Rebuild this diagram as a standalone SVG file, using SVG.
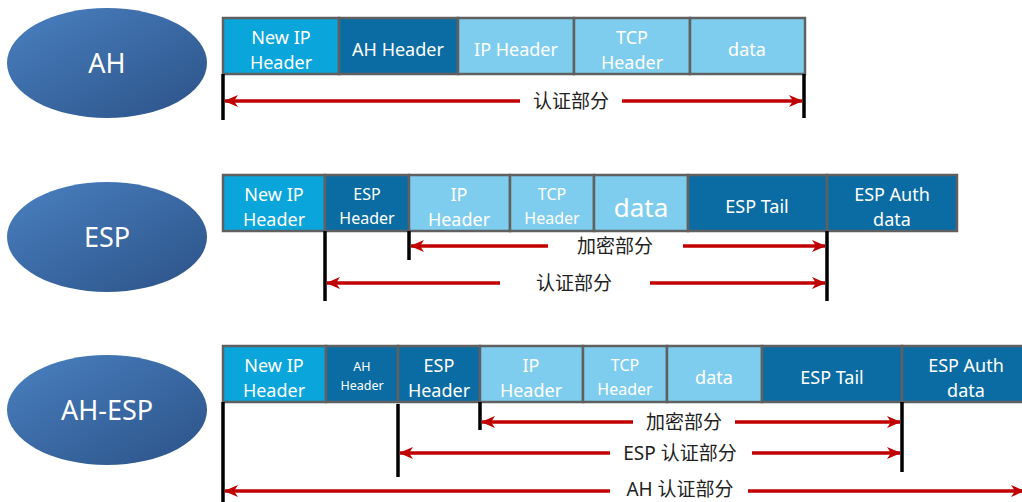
<svg xmlns="http://www.w3.org/2000/svg" width="1022" height="502" viewBox="0 0 1022 502">
<defs>
<linearGradient id="eg" x1="0" y1="0" x2="1" y2="1">
<stop offset="0" stop-color="#4a80c0"/>
<stop offset="1" stop-color="#2b5287"/>
</linearGradient>
<marker id="ah" viewBox="0 0 14 12" refX="13" refY="6" markerWidth="14" markerHeight="12" markerUnits="userSpaceOnUse" orient="auto">
<path d="M0,0 L14,6 L0,12 L4,6 Z" fill="#c00000"/>
</marker>
<style>
.el{fill:url(#eg);}
.et{font-family:"Noto Sans","Open Sans",sans-serif;font-size:27px;fill:#fff;text-anchor:middle;}
.b{stroke:#606060;stroke-width:2.5;}
.c1{fill:#0aa5db;}
.c2{fill:#0a6ca3;}
.c3{fill:#7fcdee;}
.t{font-family:"Noto Sans","Open Sans",sans-serif;font-size:18px;fill:#fff;text-anchor:middle;}
.ts{font-size:16px;}
.tx{font-size:12.5px;}
.tl{font-size:26px;}
.bar{stroke:#000;stroke-width:3.5;}
.ar{stroke:#c00000;stroke-width:3.5;fill:none;}
.lb{font-family:"Noto Sans","Noto Sans CJK SC",sans-serif;font-size:19px;fill:#222;text-anchor:middle;}
</style>
</defs>

<g id="ah-label">
<ellipse class="el" cx="107" cy="63" rx="100" ry="55"/>
<text class="et" x="107" y="73">AH</text>
</g>
<g id="esp-label">
<ellipse class="el" cx="107" cy="237" rx="100" ry="55"/>
<text class="et" x="107" y="247">ESP</text>
</g>
<g id="ahesp-label">
<ellipse class="el" cx="107" cy="410" rx="100" ry="55"/>
<text class="et" x="107" y="420">AH-ESP</text>
</g>

<!-- Row 1 -->
<g id="r1-newip"><rect class="b c1" x="223" y="18" width="116" height="56"/><text class="t" x="281" y="44">New IP</text><text class="t" x="281" y="69">Header</text></g>
<g id="r1-ah"><rect class="b c2" x="339" y="18" width="119" height="56"/><text class="t" x="398" y="56">AH Header</text></g>
<g id="r1-ip"><rect class="b c3" x="458" y="18" width="116" height="56"/><text class="t" x="516" y="56">IP Header</text></g>
<g id="r1-tcp"><rect class="b c3" x="574" y="18" width="116" height="56"/><text class="t" x="632" y="44">TCP</text><text class="t" x="632" y="69">Header</text></g>
<g id="r1-data"><rect class="b c3" x="690" y="18" width="115" height="56"/><text class="t" x="747" y="56">data</text></g>

<!-- Row 2 -->
<g id="r2-newip"><rect class="b c1" x="223" y="175" width="102" height="56"/><text class="t" x="274" y="201">New IP</text><text class="t" x="274" y="226">Header</text></g>
<g id="r2-esph"><rect class="b c2" x="325" y="175" width="84" height="56"/><text class="t ts" x="367" y="200">ESP</text><text class="t ts" x="367" y="224">Header</text></g>
<g id="r2-ip"><rect class="b c3" x="409" y="175" width="101" height="56"/><text class="t" x="459" y="201">IP</text><text class="t" x="459" y="226">Header</text></g>
<g id="r2-tcp"><rect class="b c3" x="510" y="175" width="84" height="56"/><text class="t ts" x="552" y="200">TCP</text><text class="t ts" x="552" y="224">Header</text></g>
<g id="r2-data"><rect class="b c3" x="594" y="175" width="94" height="56"/><text class="t tl" x="641" y="217">data</text></g>
<g id="r2-tail"><rect class="b c2" x="688" y="175" width="139" height="56"/><text class="t" x="757" y="213">ESP Tail</text></g>
<g id="r2-auth"><rect class="b c2" x="827" y="175" width="130" height="56"/><text class="t" x="892" y="201">ESP Auth</text><text class="t" x="892" y="226">data</text></g>

<!-- Row 3 -->
<g id="r3-newip"><rect class="b c1" x="223" y="346" width="103" height="56"/><text class="t" x="274" y="372">New IP</text><text class="t" x="274" y="397">Header</text></g>
<g id="r3-ah"><rect class="b c2" x="326" y="346" width="72" height="56"/><text class="t tx" x="362" y="371">AH</text><text class="t tx" x="362" y="390">Header</text></g>
<g id="r3-esph"><rect class="b c2" x="398" y="346" width="82" height="56"/><text class="t" x="439" y="372">ESP</text><text class="t" x="439" y="397">Header</text></g>
<g id="r3-ip"><rect class="b c3" x="480" y="346" width="103" height="56"/><text class="t" x="531" y="372">IP</text><text class="t" x="531" y="397">Header</text></g>
<g id="r3-tcp"><rect class="b c3" x="583" y="346" width="84" height="56"/><text class="t ts" x="625" y="371">TCP</text><text class="t ts" x="625" y="395">Header</text></g>
<g id="r3-data"><rect class="b c3" x="667" y="346" width="95" height="56"/><text class="t" x="714" y="384">data</text></g>
<g id="r3-tail"><rect class="b c2" x="762" y="346" width="140" height="56"/><text class="t" x="832" y="384">ESP Tail</text></g>
<g id="r3-auth"><rect class="b c2" x="902" y="346" width="130" height="56"/><text class="t" x="966" y="372">ESP Auth</text><text class="t" x="966" y="397">data</text></g>

<g id="connectors">
<line class="bar" x1="223" y1="74" x2="223" y2="120"/>
<line class="bar" x1="804" y1="74" x2="804" y2="118"/>
<line class="ar" x1="520" y1="101" x2="225" y2="101" marker-end="url(#ah)"/>
<line class="ar" x1="622" y1="101" x2="802" y2="101" marker-end="url(#ah)"/>
<line class="bar" x1="325" y1="231" x2="325" y2="301"/>
<line class="bar" x1="409" y1="231" x2="409" y2="260"/>
<line class="bar" x1="827" y1="231" x2="827" y2="301"/>
<line class="ar" x1="548" y1="246" x2="411" y2="246" marker-end="url(#ah)"/>
<line class="ar" x1="683" y1="246" x2="825" y2="246" marker-end="url(#ah)"/>
<line class="ar" x1="500" y1="283" x2="327" y2="283" marker-end="url(#ah)"/>
<line class="ar" x1="650" y1="283" x2="825" y2="283" marker-end="url(#ah)"/>
<line class="bar" x1="223" y1="402" x2="223" y2="502"/>
<line class="bar" x1="398" y1="404" x2="398" y2="477"/>
<line class="bar" x1="480" y1="402" x2="480" y2="430"/>
<line class="bar" x1="902" y1="402" x2="902" y2="472"/>
<line class="ar" x1="633" y1="422" x2="482" y2="422" marker-end="url(#ah)"/>
<line class="ar" x1="735" y1="422" x2="900" y2="422" marker-end="url(#ah)"/>
<line class="ar" x1="610" y1="453" x2="400" y2="453" marker-end="url(#ah)"/>
<line class="ar" x1="752" y1="453" x2="900" y2="453" marker-end="url(#ah)"/>
<line class="ar" x1="610" y1="491" x2="225" y2="491" marker-end="url(#ah)"/>
<line class="ar" x1="748" y1="491" x2="1024" y2="491" marker-end="url(#ah)"/>
</g>

<g id="labels">
<text class="lb" x="571" y="108">认证部分</text>
<text class="lb" x="615" y="253">加密部分</text>
<text class="lb" x="574" y="290">认证部分</text>
<text class="lb" x="684" y="429">加密部分</text>
<text class="lb" x="680" y="460">ESP 认证部分</text>
<text class="lb" x="680" y="496">AH 认证部分</text>
</g>
</svg>
